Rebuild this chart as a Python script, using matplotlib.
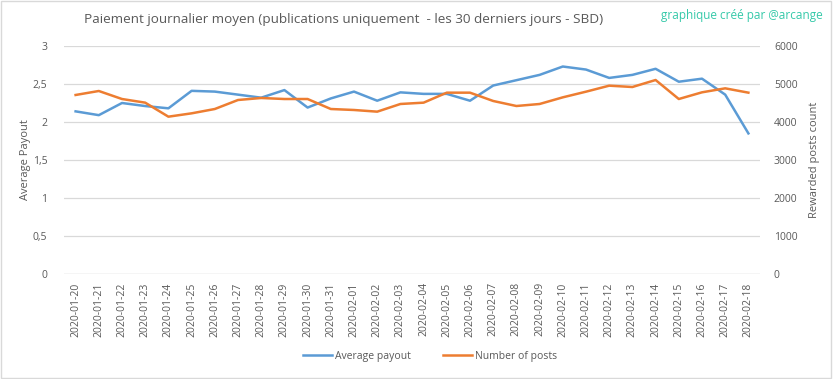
import matplotlib.pyplot as plt
from matplotlib.patches import Rectangle
from matplotlib.ticker import FuncFormatter

plt.rcParams["font.family"] = ["Open Sans", "DejaVu Sans"]

# == DONNEES ==
dates = [
    "2020-01-20", "2020-01-21", "2020-01-22", "2020-01-23", "2020-01-24",
    "2020-01-25", "2020-01-26", "2020-01-27", "2020-01-28", "2020-01-29",
    "2020-01-30", "2020-01-31", "2020-02-01", "2020-02-02", "2020-02-03",
    "2020-02-04", "2020-02-05", "2020-02-06", "2020-02-07", "2020-02-08",
    "2020-02-09", "2020-02-10", "2020-02-11", "2020-02-12", "2020-02-13",
    "2020-02-14", "2020-02-15", "2020-02-16", "2020-02-17", "2020-02-18",
]
avg_payout = [
    2.14, 2.09, 2.25, 2.21, 2.18, 2.41, 2.40, 2.36, 2.32, 2.42,
    2.19, 2.31, 2.40, 2.28, 2.39, 2.37, 2.37, 2.28, 2.48, 2.55,
    2.62, 2.73, 2.69, 2.58, 2.62, 2.70, 2.53, 2.57, 2.36, 1.85,
]
n_posts = [
    4711, 4816, 4605, 4509, 4140, 4228, 4342, 4579, 4632, 4605,
    4605, 4342, 4316, 4272, 4474, 4509, 4772, 4772, 4553, 4421,
    4474, 4649, 4798, 4956, 4921, 5105, 4605, 4781, 4886, 4772,
]

blue = "#5b9bd5"
orange = "#ed7d31"
grid_c = "#d9d9d9"
txt_c = "#595959"

fig = plt.figure(figsize=(8.33, 3.79), dpi=100)
ax = fig.add_axes([64 / 833, 1 - 274 / 379, 696 / 833, 228 / 379])
ax2 = ax.twinx()

x = list(range(len(dates)))
(l1,) = ax.plot(x, avg_payout, color=blue, lw=1.8, label="Average payout")
(l2,) = ax2.plot(x, n_posts, color=orange, lw=1.8, label="Number of posts")

ax.set_ylim(0, 3)
ax.set_yticks([0, 0.5, 1, 1.5, 2, 2.5, 3])
ax.yaxis.set_major_formatter(FuncFormatter(lambda v, p: f"{v:g}".replace(".", ",")))
ax2.set_ylim(0, 6000)
ax2.set_yticks(range(0, 6001, 1000))
ax.set_xlim(-0.5, len(dates) - 0.5)
ax.set_xticks(x)
ax.set_xticklabels(dates, rotation=90, fontsize=7.2, color=txt_c)

ax.grid(axis="y", color=grid_c, lw=0.9)
ax.set_axisbelow(True)
for a in (ax, ax2):
    for s in a.spines.values():
        s.set_visible(False)
    a.tick_params(length=0, colors=txt_c, labelsize=7.5)
ax.tick_params(axis="y", pad=12)
ax.tick_params(axis="x", pad=6)
ax2.tick_params(axis="y", pad=10)
ax.axhline(0, color=grid_c, lw=0.9)

ax.set_ylabel("Average Payout", color=txt_c, fontsize=8, labelpad=1.5)
ax2.set_ylabel("Rewarded posts count", color=txt_c, fontsize=8, labelpad=8)

fig.text(344 / 833, 1 - 20 / 379, "Paiement journalier moyen (publications uniquement  - les 30 derniers jours - SBD)",
         ha="center", va="center", fontsize=9.7, color=txt_c)
fig.text(823 / 833, 1 - 15 / 379, "graphique créé par @arcange",
         ha="right", va="center", fontsize=8.5, color="#35c9a9")

fig.legend(handles=[l1, l2], loc="center", bbox_to_anchor=(430 / 833, 1 - 356 / 379),
           ncol=2, frameon=False, fontsize=7.5, labelcolor=txt_c,
           handlelength=2.8, columnspacing=3, handletextpad=0.3)

fig.patches.append(Rectangle((0.001, 0.002), 0.997, 0.995, transform=fig.transFigure,
                             fill=False, edgecolor=grid_c, lw=1))

fig.savefig("out.png", dpi=100)
